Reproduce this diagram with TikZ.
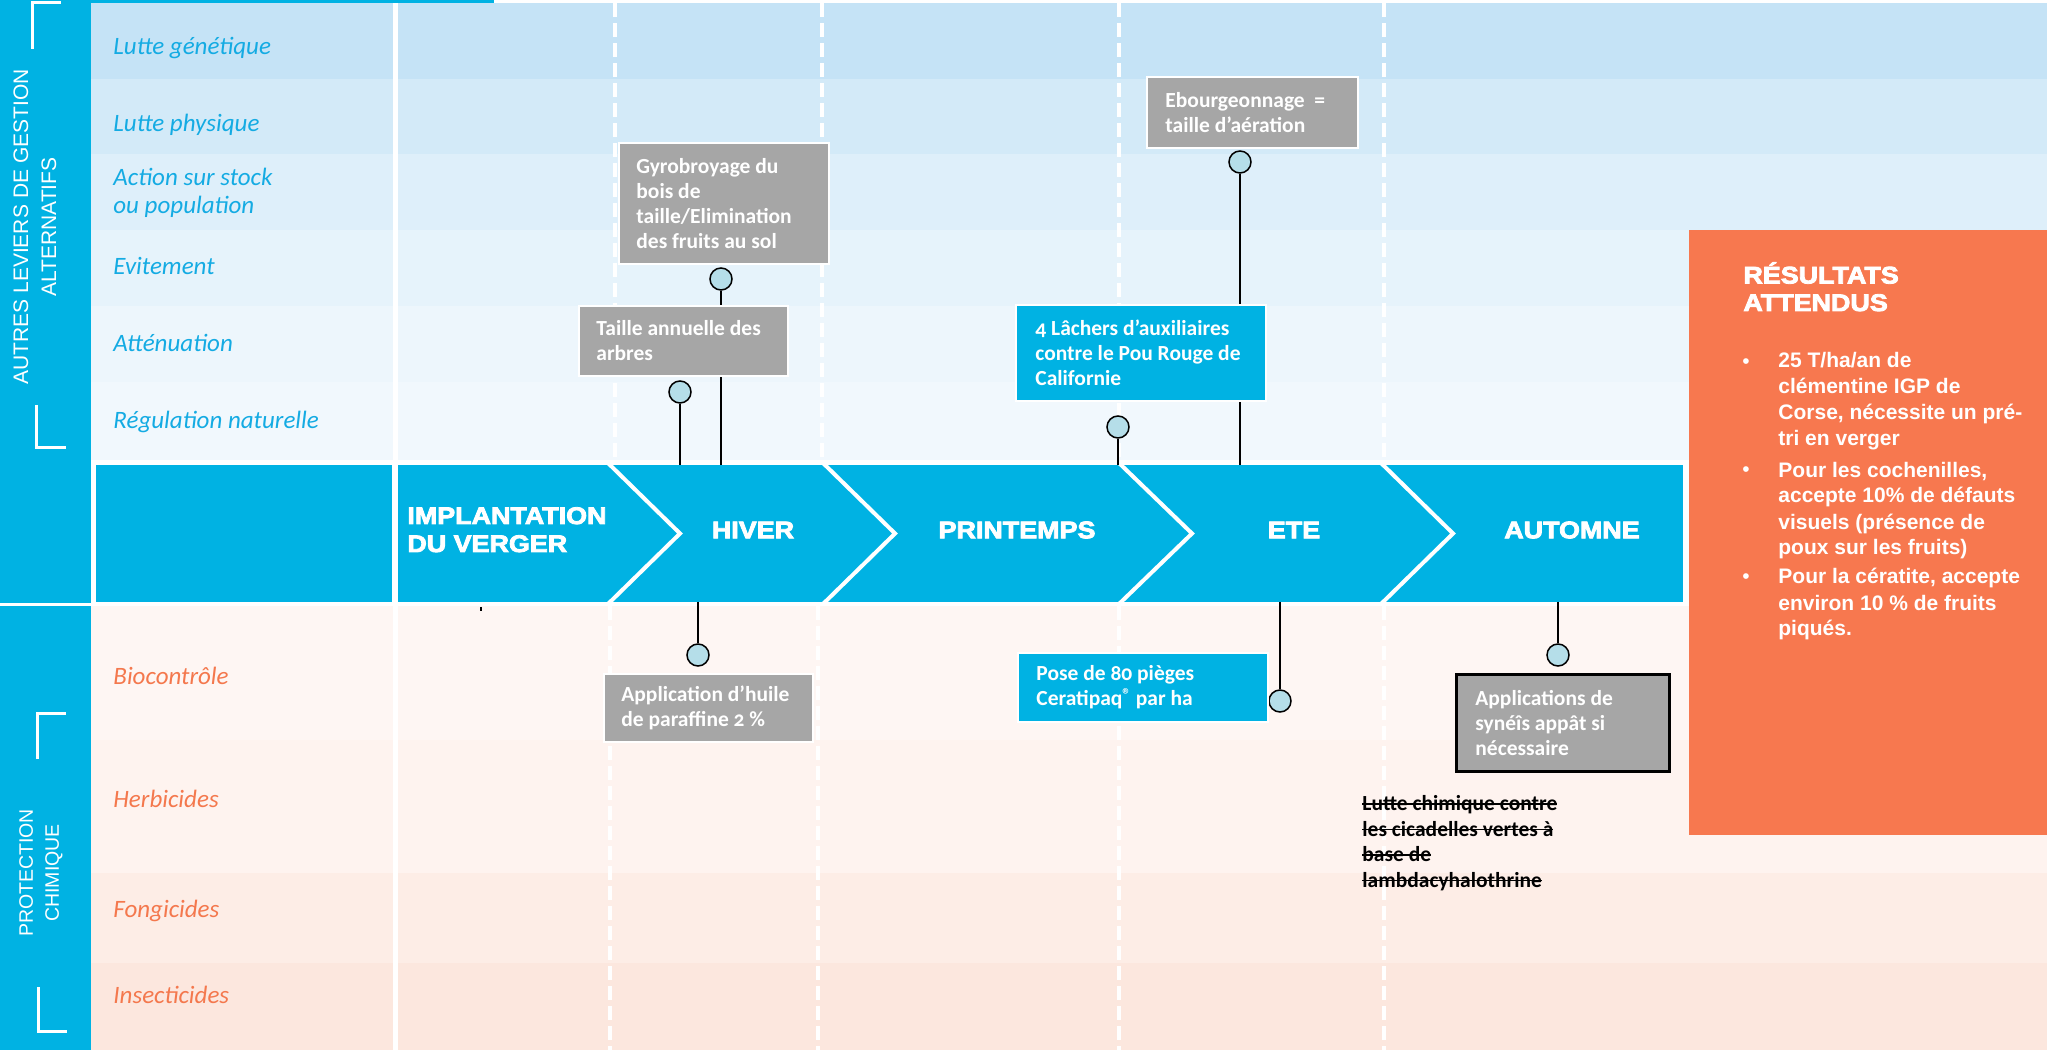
\documentclass[tikz,border=0pt]{standalone}
\usepackage{fontspec}
\setmainfont{Carlito}
\newfontfamily\boxfont{Carlito}[Numbers=OldStyle]
\newfontfamily\arialfont{Liberation Sans}
\newfontfamily\blackfont{Liberation Sans Bold}[FakeStretch=1.12, FakeBold=3.5]
\newcommand\strk[1]{\leavevmode\setbox0\hbox{#1}\rlap{\rule[0.27em]{\wd0}{0.7pt}}\box0}
\newcommand\regmark{{\fontsize{8.5}{8.5}\selectfont\raisebox{0.3em}{®}}}
\definecolor{tblue}{HTML}{00B2E3}
\definecolor{labblue}{HTML}{14ABE3}
\definecolor{laborange}{HTML}{F4784D}
\definecolor{boxgray}{HTML}{A6A6A6}
\definecolor{pinfill}{HTML}{B5DEE9}
\definecolor{resorange}{HTML}{F7784F}
\definecolor{rowA}{HTML}{C5E3F6}
\definecolor{rowB}{HTML}{D3EAF8}
\definecolor{rowC}{HTML}{DEEFFA}
\definecolor{rowD}{HTML}{E6F3FB}
\definecolor{rowE}{HTML}{EDF6FC}
\definecolor{rowF}{HTML}{F1F8FD}
\definecolor{pinkA}{HTML}{FEF6F3}
\definecolor{pinkB}{HTML}{FEF3EF}
\definecolor{pinkC}{HTML}{FDEDE6}
\definecolor{pinkD}{HTML}{FCE7DE}
\begin{document}
\begin{tikzpicture}[x=0.5pt,y=-0.5pt,
  rowlab/.style={font=\itshape\fontsize{12.5}{14}\selectfont, text=labblue, anchor=base west, inner sep=0, align=left},
  pinklab/.style={rowlab, text=laborange},
  vdash/.style={draw=white, line width=2pt, dash pattern=on 7pt off 3pt},
  bandbox/.style={fill=tblue, draw=none, inner sep=0, outer sep=0, anchor=north west},
  chev/.style={draw=white, line width=2pt, line join=miter},
  season/.style={text=white, font=\blackfont\fontsize{12}{14}\selectfont, inner sep=0, align=left},
  gbox/.style={fill=boxgray, draw=white, line width=1pt, inner sep=0, anchor=north west},
  cbox/.style={gbox, fill=tblue},
  kbox/.style={gbox, draw=black, line width=1.5pt},
  boxtxt/.style={text=white, font=\boxfont\bfseries\fontsize{10.75}{12.5}\selectfont, align=left, inner sep=0, anchor=west},
  pin/.style={circle, draw=black, fill=pinfill, line width=0.75pt, minimum size=11pt, inner sep=0},
  conn/.style={draw=black, line width=1pt},
  brk/.style={draw=white, line width=1.5pt},
  vtext/.style={text=white, rotate=90, align=center, inner sep=0},
  bul/.style={text=white, font=\arialfont\bfseries\fontsize{10.5}{13}\selectfont, align=left, inner sep=0, anchor=base west},
  buldot/.style={text=white, font=\arialfont\fontsize{10.5}{13}\selectfont, inner sep=0, anchor=base},
  strike/.style={text=black, font=\bfseries\fontsize{10.75}{12.75}\selectfont, align=left, inner sep=0, anchor=base west}
]
\useasboundingbox (0,0) rectangle (2047,1053);
\fill[white] (0,0) rectangle (2047,1053);
% top strip and left column
\fill[tblue] (0,0) rectangle (494,3);
\fill[tblue] (0,0) rectangle (91,603);
\fill[tblue] (0,606) rectangle (91,1050);
% upper rows
\fill[rowA] (91,3) rectangle (2047,79);
\fill[rowB] (91,79) rectangle (2047,154);
\fill[rowC] (91,154) rectangle (2047,230);
\fill[rowD] (91,230) rectangle (2047,306);
\fill[rowE] (91,306) rectangle (2047,382);
\fill[rowF] (91,382) rectangle (2047,460);
% lower rows
\fill[pinkA] (91,606) rectangle (2047,740);
\fill[pinkB] (91,740) rectangle (2047,873);
\fill[pinkC] (91,873) rectangle (2047,963);
\fill[pinkD] (91,963) rectangle (2047,1050);
% dashed lines
\foreach \xx in {615,822,1119,1384} \draw[vdash] (\xx,3) -- (\xx,460);
\foreach \xx in {610,818,1119,1384} \draw[vdash] (\xx,606) -- (\xx,1050);
% timeline band
\node[bandbox, minimum width=148pt, minimum height=68.5pt] (cell0) at (96,465) {};
\node[bandbox, minimum width=642.5pt, minimum height=68.5pt] (band) at (398,465) {};
\draw[chev] (608,463) -- (680,533.5) -- (608,604);
\draw[chev] (823,463) -- (895,533.5) -- (823,604);
\draw[chev] (1119,463) -- (1192,533.5) -- (1119,604);
\draw[chev] (1381,463) -- (1453,533.5) -- (1381,604);
\draw[draw=white, line width=2.5pt] (395,3) -- (395,1050);
\draw[line width=0.6pt] (481,607) -- (481,611);
\node[season, anchor=base west] (s0) at (407,552) {IMPLANTATION\\DU VERGER};
\node[season] (s1) at (753,530) {HIVER};
\node[season] (s2) at (1017,530) {PRINTEMPS};
\node[season] (s3) at (1294,530) {ETE};
\node[season] (s4) at (1572,530) {AUTOMNE};
% row labels
\node[rowlab] (l1) at (113,55) {Lutte génétique};
\node[rowlab] (l2) at (113,132) {Lutte physique};
\node[rowlab] (l3) at (113,214) {Action sur stock\\ou population};
\node[rowlab] (l4) at (113,275) {Evitement};
\node[rowlab] (l5) at (113,352) {Atténuation};
\node[rowlab] (l6) at (113,429) {Régulation naturelle};
\node[pinklab] (l7) at (113,684) {Biocontrôle};
\node[pinklab] (l8) at (113,807) {Herbicides};
\node[pinklab] (l9) at (113,917) {Fongicides};
\node[pinklab] (l10) at (113,1003) {Insecticides};
% pins
\node[pin] (p1) at (721,279) {};
\node[pin] (p2) at (680,392) {};
\node[pin] (p3) at (1240,162) {};
\node[pin] (p4) at (1118,427) {};
\node[pin] (p5) at (698,655) {};
\node[pin] (p6) at (1280,701) {};
\node[pin] (p7) at (1558,655) {};
% connectors
\draw[conn] (p1.south) -- (p1.south |- band.north);
\draw[conn] (p2.south) -- (p2.south |- band.north);
\draw[conn] (p3.south) -- (p3.south |- band.north);
\draw[conn] (p4.south) -- (p4.south |- band.north);
\draw[conn] (p5.north |- band.south) -- (p5.north);
\draw[conn] (p6.north |- band.south) -- (p6.north);
\draw[conn] (p7.north |- band.south) -- (p7.north);
% boxes
\node[gbox, minimum width=105pt, minimum height=60.5pt] (gyro) at (618,142) {};
\node[boxtxt] (gyro-t) at ([xshift=9pt]gyro.west) {Gyrobroyage du\\bois de\\taille/Elimination\\des fruits au sol};
\node[gbox, minimum width=104.5pt, minimum height=35pt] (taille) at (578,305) {};
\node[boxtxt] (taille-t) at ([xshift=9pt]taille.west) {Taille annuelle des\\arbres};
\node[gbox, minimum width=105.5pt, minimum height=35.5pt] (ebou) at (1146,76) {};
\node[boxtxt] (ebou-t) at ([xshift=9.5pt]ebou.west) {Ebourgeonnage~ =\\taille d’aération};
\node[cbox, minimum width=125pt, minimum height=48pt] (lach) at (1015,304) {};
\node[boxtxt] (lach-t) at ([xshift=10pt]lach.west) {4 Lâchers d’auxiliaires\\contre le Pou Rouge de\\Californie};
\node[gbox, minimum width=104.5pt, minimum height=34pt] (huile) at (603,673) {};
\node[boxtxt] (huile-t) at ([xshift=9pt]huile.west) {Application d’huile\\de paraffine 2 \%};
\node[cbox, minimum width=125pt, minimum height=34.5pt] (pose) at (1017,652) {};
\node[boxtxt] (pose-t) at ([xshift=9.5pt]pose.west) {Pose de 80 pièges\\Ceratipaq\regmark{} par ha};
\node[kbox, minimum width=106.5pt, minimum height=48.5pt] (syn) at (1455,673) {};
\node[boxtxt] (syn-t) at ([xshift=10pt]syn.west) {Applications de\\synéîs appât si\\nécessaire};
\node[strike] (lc) at (1362,887) {\strk{Lutte chimique contre}\\\strk{les cicadelles vertes à}\\\strk{base de}\\\strk{lambdacyhalothrine}};
% results box
\node[fill=resorange, inner sep=0, anchor=north west, minimum width=179pt, minimum height=302.5pt] (res) at (1689,230) {};
\node[season, font=\blackfont\fontsize{12}{13.75}\selectfont, anchor=base west] (rt) at (1743,311) {RÉSULTATS\\ATTENDUS};
\node[buldot] (d1) at (1746,369) {•};
\node[bul] (b1) at (1778,446) {25 T/ha/an de\\clémentine IGP de\\Corse, nécessite un pré-\\tri en verger};
\node[buldot] (d2) at (1746,477) {•};
\node[bul] (b2) at (1778,555) {Pour les cochenilles,\\accepte 10\% de défauts\\visuels (présence de\\poux sur les fruits)};
\node[buldot] (d3) at (1746,584) {•};
\node[bul] (b3) at (1778,636) {Pour la cératite, accepte\\environ 10 \% de fruits\\piqués.};
% left column brackets and titles
\draw[brk] (32,49) -- (32,3) -- (61,3);
\draw[brk] (36,405) -- (36,448) -- (66,448);
\draw[brk] (37,759) -- (37,713) -- (66,713);
\draw[brk] (38,987) -- (38,1031) -- (67,1031);
\node[vtext, font=\arialfont\fontsize{10.5}{14}\selectfont] (lev) at (35,227) {AUTRES LEVIERS DE GESTION\\ALTERNATIFS};
\node[vtext, font=\arialfont\fontsize{9.75}{13}\selectfont] (prot) at (41,873) {PROTECTION\\CHIMIQUE};
\end{tikzpicture}
\end{document}
